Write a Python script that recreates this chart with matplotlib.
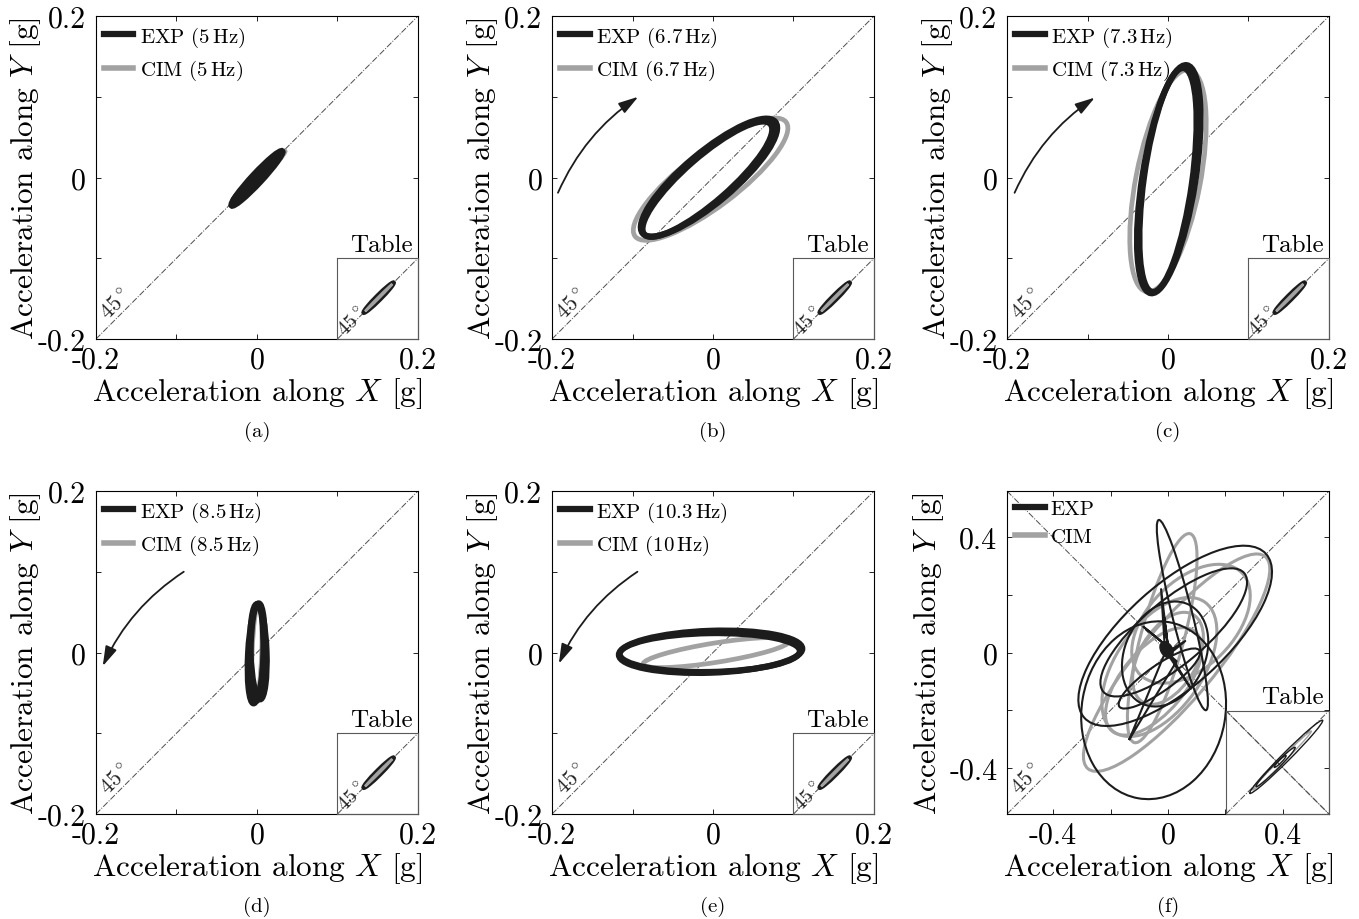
import matplotlib
matplotlib.use("Agg")
import matplotlib.pyplot as plt
from matplotlib.patches import Ellipse, FancyArrowPatch
from matplotlib.lines import Line2D

plt.rcParams['font.family'] = ['cmr10', 'DejaVu Serif']
plt.rcParams['mathtext.fontset'] = 'cm'
plt.rcParams['axes.unicode_minus'] = False
plt.rcParams['axes.formatter.use_mathtext'] = True

# ---- data ----------------------------------------------------------------
tags = ['(a)', '(b)', '(c)', '(d)', '(e)', '(f)']
exp_freq = ['5', '6.7', '7.3', '8.5', '10.3', None]
cim_freq = ['5', '6.7', '7.3', '8.5', '10', None]

# orbit loops: (x centre, y centre, width, height, angle deg), units of g
exp_a = [(0.0, -0.001, 0.092, 0.012, 47), (0.001, 0.001, 0.086, 0.007, 45)]
cim_a = [(0.003, 0.001, 0.09, 0.008, 45)]
exp_b = [(-0.005, 0.0, 0.215, 0.062, 40), (-0.007, -0.002, 0.208, 0.056, 41)]
cim_b = [(-0.003, -0.002, 0.235, 0.068, 37)]
exp_c = [(0.001, -0.002, 0.286, 0.066, 81), (0.0, -0.003, 0.28, 0.06, 82)]
cim_c = [(0.0, -0.004, 0.28, 0.08, 79)]
exp_d = [(-0.001, -0.001, 0.124, 0.02, 87), (0.0, 0.0, 0.12, 0.016, 89),
         (0.002, 0.001, 0.118, 0.02, 92)]
cim_d = [(0.0, 0.0, 0.12, 0.012, 88)]
exp_e = [(-0.003, 0.001, 0.228, 0.052, 2), (-0.004, 0.0, 0.224, 0.048, 1)]
cim_e = [(0.004, 0.0, 0.184, 0.024, 9)]

exp_f = [(0.025, 0.058, 0.85, 0.35, 42),
         (0.02, 0.07, 0.64, 0.22, 40),
         (-0.05, -0.2, 0.62, 0.5, 80),
         (-0.01, -0.005, 0.38, 0.28, 65),
         (0.05, 0.13, 0.68, 0.07, 104),
         (-0.03, -0.09, 0.34, 0.09, 35)]
cim_f = [(0.03, -0.035, 0.96, 0.26, 50),
         (-0.02, 0.05, 0.75, 0.15, 75),
         (-0.03, -0.05, 0.55, 0.3, 55),
         (0.0, -0.02, 0.35, 0.2, 60),
         (-0.05, -0.1, 0.45, 0.22, 50),
         (0.08, 0.1, 0.5, 0.3, 45)]
star_x = [-0.134, -0.01, -0.024, 0.0, -0.014, 0.0, -0.086, 0.01, 0.06, 0.005, 0.08, -0.005, 0.03, -0.134]
star_y = [-0.30, 0.0, 0.22, 0.02, 0.125, 0.02, 0.09, 0.01, 0.04, -0.005, -0.125, 0.0, -0.03, -0.30]

# table (inset) orbits
tab_exp = [(0.005, 0.005, 0.21, 0.022, 45)]
tab_cim = [(0.005, 0.005, 0.19, 0.008, 45)]
tab_exp_f = [(0.095, 0.06, 1.12, 0.09, 45), (-0.02, -0.05, 0.6, 0.06, 45), (0.03, 0.01, 0.18, 0.03, 45)]
tab_cim_f = [(0.05, 0.02, 0.9, 0.05, 45)]

# direction arrows (start, end), None = no arrow
arrows = [None,
          ((-0.194, -0.022), (-0.09, 0.102)),
          ((-0.192, -0.022), (-0.088, 0.101)),
          ((-0.088, 0.102), (-0.193, -0.02)),
          ((-0.091, 0.102), (-0.193, -0.017)),
          None]
arrow_rad = [0, -0.15, -0.15, 0.15, 0.15, 0]

exp_loops = [exp_a, exp_b, exp_c, exp_d, exp_e, exp_f]
cim_loops = [cim_a, cim_b, cim_c, cim_d, cim_e, cim_f]

BLACK = '#1c1c1c'
GREY = '#a2a2a2'

fig = plt.figure(figsize=(13.59, 9.2), dpi=100)
lefts = [0.0706, 0.4062, 0.741]
bottoms = [0.6304, 0.1141]
W, H = 0.2369, 0.351


def add_loops(ax, loops, color, lw, z):
    for cx, cy, w, h, ang in loops:
        ax.add_patch(Ellipse((cx, cy), w, h, angle=ang, fill=False,
                             ec=color, lw=lw, zorder=z))


def diag(ax, lim, both=False):
    ax.plot([-lim, lim], [-lim, lim], ls='-.', color='0.3', lw=0.7, zorder=1)
    if both:
        ax.plot([-lim, lim], [lim, -lim], ls='-.', color='0.3', lw=0.7, zorder=1)


for i in range(6):
    r, c = divmod(i, 3)
    ax = fig.add_axes([lefts[c], bottoms[r], W, H])
    f = i == 5
    lim = 0.56 if f else 0.2
    ax.set_xlim(-lim, lim)
    ax.set_ylim(-lim, lim)
    diag(ax, lim, both=f)

    if f:
        add_loops(ax, cim_loops[i], GREY, 2.2, 2)
        add_loops(ax, exp_loops[i], BLACK, 1.5, 3)
        ax.plot(star_x, star_y, color=BLACK, lw=1.5, zorder=3)
        ax.add_patch(Ellipse((-0.005, 0.01), 0.04, 0.06, angle=30, color=BLACK, zorder=4))
        major = [-0.4, 0, 0.4]
        minor = [-0.2, 0.2]
        labels = ['-0.4', '0', '0.4']
    else:
        add_loops(ax, cim_loops[i], GREY, 3.4, 2)
        add_loops(ax, exp_loops[i], BLACK, 4.4, 3)
        major = [-0.2, 0, 0.2]
        minor = [-0.1, 0.1]
        labels = ['-0.2', '0', '0.2']

    ax.set_xticks(major)
    ax.set_xticklabels(labels)
    ax.set_yticks(major)
    ax.set_yticklabels(labels)
    ax.set_xticks(minor, minor=True)
    ax.set_yticks(minor, minor=True)
    ax.tick_params(which='both', direction='in', top=True, right=True,
                   length=3.5, width=0.6, labelsize=21.5)
    ax.tick_params(axis='x', pad=5)
    ax.tick_params(axis='y', pad=7)
    for s in ax.spines.values():
        s.set_linewidth(0.8)

    ax.set_xlabel(r'Acceleration along $X$ [g]', fontsize=22.5, labelpad=1)
    ax.set_ylabel(r'Acceleration along $Y$ [g]', fontsize=22.5)
    ax.yaxis.set_label_coords(-0.19 if f else -0.163, 0.5)

    # 45 degree mark
    ax.text(-lim * 0.88, -lim * 0.78, r'45$^\circ$', rotation=45, fontsize=16,
            ha='center', va='center', color='0.15')

    # direction arrow
    if arrows[i] is not None:
        p0, p1 = arrows[i]
        ax.add_patch(FancyArrowPatch(p0, p1, connectionstyle=f'arc3,rad={arrow_rad[i]}',
                                     arrowstyle='-|>,head_length=0.6,head_width=0.18',
                                     mutation_scale=20, color=BLACK, lw=1.3, zorder=5))

    # legend
    if f:
        l1, l2 = 'EXP', 'CIM'
    else:
        l1 = r'EXP (%s$\,$Hz)' % exp_freq[i]
        l2 = r'CIM (%s$\,$Hz)' % cim_freq[i]
    hs = [Line2D([], [], color=BLACK, lw=4.5), Line2D([], [], color=GREY, lw=4.0)]
    ax.legend(hs, [l1, l2], loc='upper left', frameon=False, fontsize=15,
              handlelength=1.4, handletextpad=0.3, labelspacing=0.45,
              borderaxespad=0.2, borderpad=0.2)

    # table inset
    frac = 0.32 if f else 0.25
    ins = ax.inset_axes([1 - frac, 0, frac, frac])
    ins.set_facecolor('none')
    ins.set_xlim(-lim, lim)
    ins.set_ylim(-lim, lim)
    ins.set_xticks([])
    ins.set_yticks([])
    for s in ins.spines.values():
        s.set_linewidth(0.8)
        s.set_color('0.35')
    diag(ins, lim, both=f)
    if f:
        add_loops(ins, tab_cim_f, GREY, 1.0, 2)
        add_loops(ins, tab_exp_f, BLACK, 1.0, 3)
    else:
        add_loops(ins, tab_exp, BLACK, 3.2, 2)
        add_loops(ins, tab_cim, GREY, 1.6, 3)
        ins.text(-lim * 0.62, -lim * 0.58, r'45$^\circ$', rotation=45, fontsize=15,
                 ha='center', va='center', color='0.15')
    ax.text(0.985, frac + 0.008, 'Table', transform=ax.transAxes, ha='right',
            va='bottom', fontsize=18)

    fig.text(lefts[c] + W / 2, [0.5304, 0.0141][r], tags[i], ha='center',
             va='center', fontsize=15)

fig.savefig('out.png', dpi=100)
